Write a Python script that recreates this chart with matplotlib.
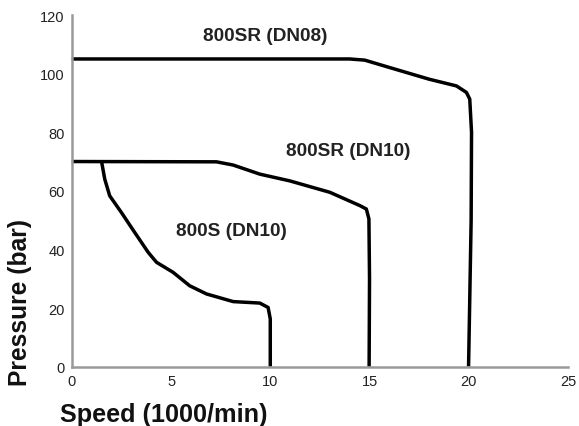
import matplotlib
matplotlib.use("Agg")
import matplotlib.pyplot as plt

# 800SR (DN08) limit curve
dn08_speed = [0.0, 14.0, 14.76, 16.0, 18.0, 19.38, 19.88, 20.05, 20.14, 20.12, 19.99]
dn08_press = [105.0, 105.0, 104.6, 102.1, 98.1, 95.8, 93.6, 91.3, 80.0, 50.0, 0.0]

# 800SR (DN10) limit curve
sr10_speed = [0.0, 7.29, 8.13, 9.47, 10.98, 13.0, 14.5, 14.84, 14.97, 15.0, 14.98]
sr10_press = [70.0, 69.9, 68.8, 65.7, 63.4, 59.5, 55.0, 53.8, 50.4, 30.0, 0.0]

# 800S (DN10) limit curve
s10_speed = [1.50, 1.66, 1.91, 2.50, 3.17, 3.85, 4.27, 5.10, 5.94, 6.79, 8.13, 9.47,
             9.89, 10.0, 10.0]
s10_press = [70.0, 64.0, 58.3, 52.6, 45.8, 39.0, 35.6, 32.2, 27.6, 24.8, 22.2, 21.7,
             20.2, 16.3, 0.0]

curve_labels = ["800SR (DN08)", "800SR (DN10)", "800S (DN10)"]
label_pos = [(9.75, 112.9), (13.95, 73.9), (8.06, 46.4)]

x_ticks = [0, 5, 10, 15, 20, 25]
y_ticks = [0, 20, 40, 60, 80, 100, 120]

plt.rcParams["font.family"] = ["Liberation Sans", "DejaVu Sans"]

fig = plt.figure(figsize=(5.79, 4.27), dpi=100)
ax = fig.add_axes([0.124, 0.139, 0.857, 0.8235])

for xs, ys in [(dn08_speed, dn08_press), (sr10_speed, sr10_press), (s10_speed, s10_press)]:
    ax.plot(xs, ys, color="black", linewidth=2.5, solid_joinstyle="round",
            solid_capstyle="butt", clip_on=False)

for text, (x, y) in zip(curve_labels, label_pos):
    ax.text(x, y, text, ha="center", va="center", fontsize=13.7, fontweight="bold",
            color="#222222")

ax.set_xlim(0, 25)
ax.set_ylim(0, 120)
ax.set_xticks(x_ticks)
ax.set_yticks(y_ticks)
ax.tick_params(length=0, labelsize=10.5, colors="#222222", pad=5)
for side in ["top", "right"]:
    ax.spines[side].set_visible(False)
for side in ["left", "bottom"]:
    ax.spines[side].set_color("#999999")
    ax.spines[side].set_linewidth(1.8)

fig.text(0.035, 0.292, "Pressure (bar)", rotation=90, ha="center", va="center",
         fontsize=17.7, fontweight="bold", color="#111111")
fig.text(0.283, 0.027, "Speed (1000/min)", ha="center", va="center",
         fontsize=18.2, fontweight="bold", color="#111111")

fig.savefig("out.png", dpi=100)
